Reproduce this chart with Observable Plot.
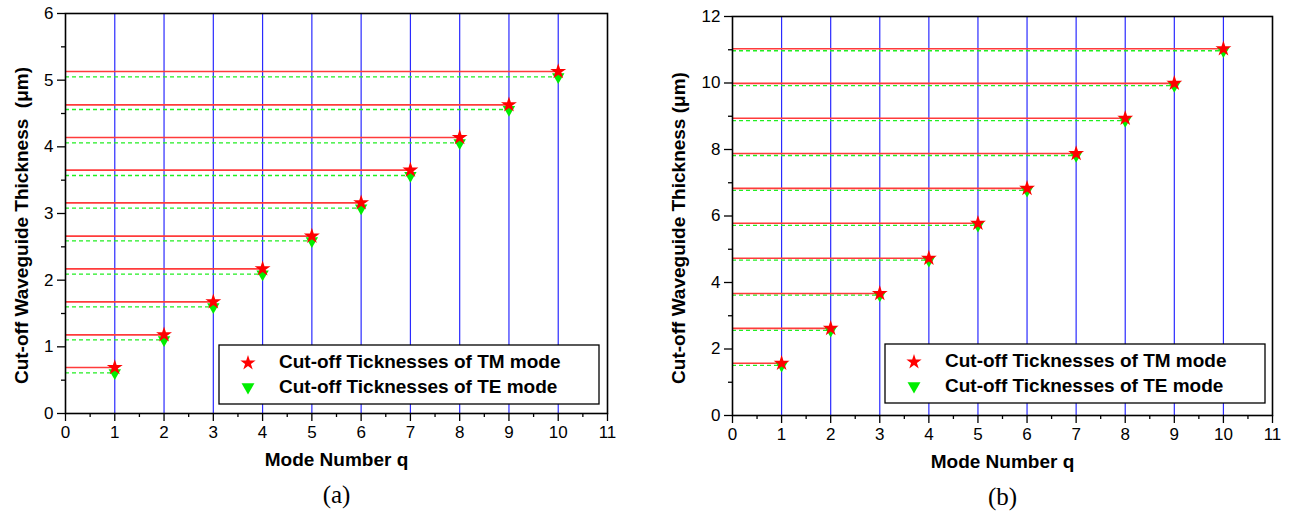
<!DOCTYPE html>
<html><head><meta charset="utf-8">
<script src="https://cdn.jsdelivr.net/npm/d3@7"></script>
<script src="https://cdn.jsdelivr.net/npm/@observablehq/plot@0.6"></script>
<style>
body{margin:0;background:#fff;}
#wrap{display:flex;width:1298px;height:520px;}
.panel{position:relative;width:649px;height:520px;}
.legend{position:absolute;}
</style></head><body>
<div id="wrap"><div class="panel" id="pa"></div><div class="panel" id="pb"></div></div>
<script>
const modes = [1,2,3,4,5,6,7,8,9,10];
const tmA = [0.69,1.18,1.675,2.17,2.66,3.16,3.65,4.14,4.63,5.13];
const teA = [0.61,1.105,1.60,2.09,2.59,3.08,3.57,4.06,4.56,5.05];
const tmB = [1.57,2.62,3.67,4.73,5.78,6.83,7.88,8.94,9.99,11.03];
const teB = [1.51,2.56,3.62,4.67,5.72,6.77,7.82,8.87,9.92,10.97];
const xTicks = [0,1,2,3,4,5,6,7,8,9,10,11];
const xMinor = [0.5,1.5,2.5,3.5,4.5,5.5,6.5,7.5,8.5,9.5,10.5];
const yTicksA = [0,1,2,3,4,5,6];
const yMinorA = [0.5,1.5,2.5,3.5,4.5,5.5];
const yTicksB = [0,2,4,6,8,10,12];
const yMinorB = [1,3,5,7,9,11];
const legendLabels = ["Cut-off Ticknesses of TM mode","Cut-off Ticknesses of TE mode"];
const xTitle = "Mode Number q";
const yTitleA = "Cut-off Waveguide Thickness\u00a0\u00a0(\u03bcm)";
const yTitleB = "Cut-off Waveguide Thickness (\u03bcm)";
const captions = ["(a)","(b)"];

const SANS = "'Liberation Sans', Arial, sans-serif";

function panel(opts){
  const {tm, te, yDomain, yTicks, yMinor, yTitle, caption, ml, mr, mt, mb, ydx} = opts;
  const rows = modes.map((q,i)=>({q, tm: tm[i], te: te[i]}));
  return Plot.plot({
    width: 649, height: 520,
    marginLeft: ml, marginRight: mr, marginTop: mt, marginBottom: mb,
    style: {fontFamily: SANS, background: "#fff"},
    x: {domain: [0, 11]},
    y: {domain: yDomain},
    marks: [
      Plot.ruleX(modes, {x: d=>d, y1: yDomain[0], y2: yDomain[1], stroke: "#2a2aff", strokeWidth: 1.2}),
      Plot.ruleY(rows, {y: "te", x1: 0, x2: "q", stroke: "#22ee22", strokeWidth: 1.3, strokeDasharray: "4,3"}),
      Plot.ruleY(rows, {y: "tm", x1: 0, x2: "q", stroke: "#ff3b3b", strokeWidth: 1.6}),
      Plot.dot(rows, {x: "q", y: "te", symbol: "triangle", rotate: 180, r: 4.6, fill: "#00ee00", stroke: "none"}),
      Plot.dot(rows, {x: "q", y: "tm", symbol: "star", r: 5, fill: "#ff0000", stroke: "none"}),
      Plot.frame({stroke: "#000", strokeWidth: 1.6}),
      Plot.axisX({ticks: xTicks, tickFormat: d => String(d), tickSize: 8, tickPadding: 4, fontSize: 17, label: null, strokeWidth: 1.3, color: "#000"}),
      Plot.axisX({ticks: xMinor, tickSize: 4, text: null, label: null, strokeWidth: 1.3}),
      Plot.axisY({ticks: yTicks, tickFormat: d => String(d), tickSize: 8, tickPadding: 4, fontSize: 17, label: null, strokeWidth: 1.3, color: "#000"}),
      Plot.axisY({ticks: yMinor, tickSize: 4, text: null, label: null, strokeWidth: 1.3}),
      Plot.text([xTitle], {frameAnchor: "bottom", dy: 52, fontSize: 19, fontWeight: "bold", fill: "#000"}),
      Plot.text([yTitle], {frameAnchor: "left", textAnchor: "middle", dx: ydx, dy: 12, rotate: -90, fontSize: 19, fontWeight: "bold", fill: "#000"}),
      Plot.text([caption], {frameAnchor: "bottom", dy: 89, fontSize: 25, fontFamily: "'Liberation Serif', 'Times New Roman', serif", fill: "#000"})
    ]
  });
}

function legend(container, left, top){
  const w = 380, h = 59;
  const svg = d3.select(container).append("svg")
    .attr("class","legend").attr("width", w+2).attr("height", h+2)
    .style("left", (left-1)+"px").style("top", (top-1)+"px");
  svg.append("rect").attr("x",1).attr("y",1).attr("width",w).attr("height",h)
    .attr("fill","#fff").attr("stroke","#000").attr("stroke-width",1.3);
  const star = d3.symbol(d3.symbolStar, Math.PI*4.8*4.8)();
  const tri = d3.symbol(d3.symbolTriangle, Math.PI*4.8*4.8)();
  svg.append("path").attr("d", star).attr("fill","#ff0000").attr("transform","translate(30,19)");
  svg.append("path").attr("d", tri).attr("fill","#00ee00").attr("transform","translate(30,43) rotate(180)");
  legendLabels.forEach((t,i)=>{
    svg.append("text").attr("x",61).attr("y", 17.5 + i*25).attr("dy","0.35em")
      .attr("font-family", SANS).attr("font-weight","bold").attr("font-size",19)
      .attr("fill","#000").text(t);
  });
}

const pa = document.getElementById("pa");
pa.appendChild(panel({tm: tmA, te: teA, yDomain: [0,6], yTicks: yTicksA, yMinor: yMinorA, yTitle: yTitleA, caption: captions[0], ml: 65, mr: 42, mt: 13, mb: 107, ydx: -44}));
legend(pa, 219, 345);

const pb = document.getElementById("pb");
pb.appendChild(panel({tm: tmB, te: teB, yDomain: [0,12], yTicks: yTicksB, yMinor: yMinorB, yTitle: yTitleB, caption: captions[1], ml: 83, mr: 26, mt: 16, mb: 105, ydx: -54}));
legend(pb, 236, 344);
</script>
</body></html>
